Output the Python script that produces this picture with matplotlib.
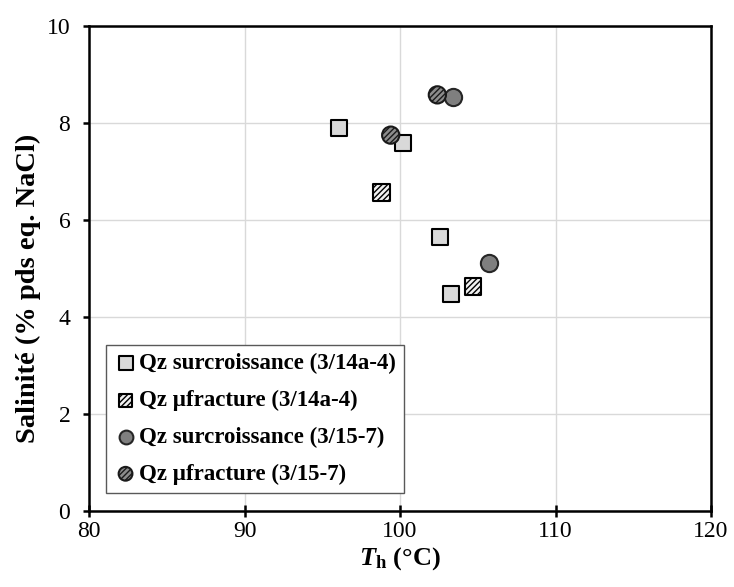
import matplotlib
matplotlib.use("Agg")
from matplotlib import pyplot as plt

plt.rcParams['font.family'] = ['Liberation Serif', 'DejaVu Serif']
plt.rcParams['mathtext.fontset'] = 'custom'
plt.rcParams['mathtext.rm'] = 'Liberation Serif:bold'
plt.rcParams['mathtext.bf'] = 'Liberation Serif:bold'
plt.rcParams['mathtext.it'] = 'Liberation Serif:italic'
plt.rcParams['mathtext.bfit'] = 'Liberation Serif:italic:bold'
plt.rcParams['hatch.linewidth'] = 1.0
plt.rcParams['xtick.labelsize'] = 17
plt.rcParams['ytick.labelsize'] = 17

# data
sq_light_x = [96.1, 100.2, 102.6, 103.3]
sq_light_y = [7.89, 7.59, 5.64, 4.47]
sq_hatch_x = [98.8, 104.7]
sq_hatch_y = [6.57, 4.63]
ci_gray_x = [103.4, 105.7]
ci_gray_y = [8.54, 5.11]
ci_hatch_x = [102.4, 99.4]
ci_hatch_y = [8.58, 7.75]

labels = ["Qz surcroissance (3/14a-4)", "Qz \u00b5fracture (3/14a-4)",
          "Qz surcroissance (3/15-7)", "Qz \u00b5fracture (3/15-7)"]

fig = plt.figure(figsize=(7.34, 5.87), dpi=100)
ax = fig.add_axes([0.1213, 0.1295, 0.8474, 0.8262])

ms = 140
ax.scatter(sq_light_x, sq_light_y, s=ms, marker='s', facecolor='#d9d9d9',
           edgecolor='black', linewidth=1.5, zorder=3, label=labels[0])
ax.scatter(sq_hatch_x, sq_hatch_y, s=ms, marker='s', facecolor='#f2f2f2',
           edgecolor='black', linewidth=1.5, hatch='//////', zorder=3, label=labels[1])
ax.scatter(ci_gray_x, ci_gray_y, s=ms * 1.1, marker='o', facecolor='#7f7f7f',
           edgecolor='#262626', linewidth=1.5, zorder=3, label=labels[2])
ax.scatter(ci_hatch_x, ci_hatch_y, s=ms * 1.1, marker='o', facecolor='#8c8c8c',
           edgecolor='#1a1a1a', linewidth=1.5, hatch='//////', zorder=3, label=labels[3])

ax.set_xlim(80, 120)
ax.set_ylim(0, 10)
ax.set_xticks([80, 90, 100, 110, 120])
ax.set_yticks([0, 2, 4, 6, 8, 10])
ax.grid(True, color='#d9d9d9', linewidth=1)
ax.set_axisbelow(True)
for side in ['left', 'bottom', 'top', 'right']:
    ax.spines[side].set_linewidth(1.8)
ax.tick_params(width=1.8)
ax.tick_params(axis='x', direction='inout', length=9, pad=3)
ax.tick_params(axis='y', direction='out', length=4.5, pad=9)

ax.set_xlabel(r'$\mathbfit{T}_\mathbf{h}$ (°C)', fontsize=19, fontweight='bold', labelpad=2)
ax.set_ylabel('Salinité (% pds eq. NaCl)', fontsize=20.5, fontweight='bold')
ax.yaxis.set_label_coords(-0.078, 0.46)

leg = ax.legend(loc='lower left', bbox_to_anchor=(0.027, 0.037), borderaxespad=0,
                fancybox=False, edgecolor='#595959', framealpha=1, markerscale=0.8,
                handlelength=1.0, handletextpad=0.1, labelspacing=0.68, borderpad=0.36,
                prop={'family': 'Liberation Serif', 'weight': 'bold', 'size': 16.5})
leg.get_frame().set_linewidth(1.0)

plt.savefig("out.png", dpi=100)
